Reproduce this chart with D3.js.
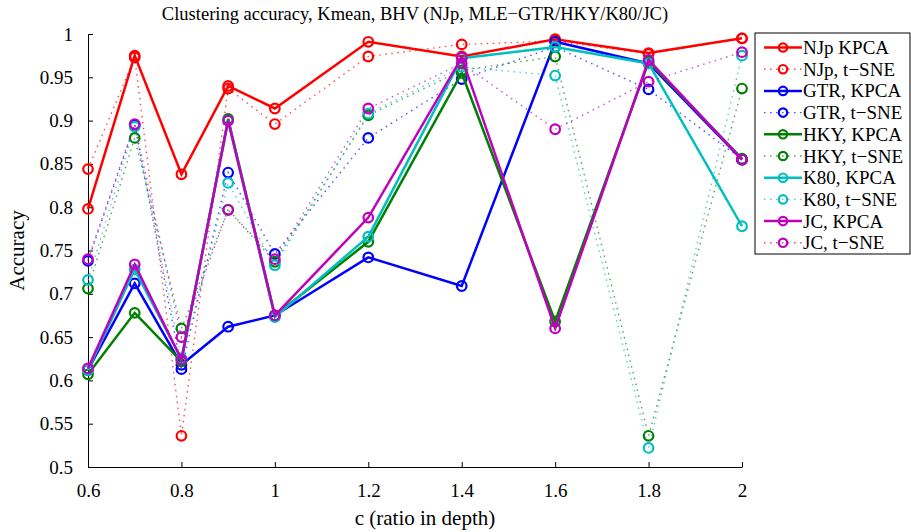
<!DOCTYPE html>
<html>
<head>
<meta charset="utf-8">
<script src="https://cdn.jsdelivr.net/npm/d3@7"></script>
<style>
  body { margin: 0; background: #fff; }
  svg { font-family: "Liberation Serif", "DejaVu Serif", serif; }
</style>
</head>
<body>
<div id="chart"></div>
<script>
let xValues = [0.6, 0.7, 0.8, 0.9, 1, 1.2, 1.4, 1.6, 1.8, 2]

let njpKpca = [0.798, 0.975, 0.838, 0.940, 0.914, 0.991, 0.974, 0.994, 0.978, 0.995]
let njpTsne = [0.844, 0.973, 0.536, 0.937, 0.896, 0.974, 0.988, 0.992, 0.977, 0.995]
let gtrKpca = [0.612, 0.712, 0.618, 0.662, 0.675, 0.742, 0.709, 0.991, 0.966, 0.855]
let gtrTsne = [0.738, 0.895, 0.613, 0.840, 0.746, 0.880, 0.948, 0.985, 0.936, 0.855]
let hkyKpca = [0.607, 0.678, 0.622, 0.902, 0.675, 0.760, 0.955, 0.668, 0.968, 0.856]
let hkyTsne = [0.706, 0.880, 0.660, 0.797, 0.737, 0.906, 0.958, 0.974, 0.536, 0.937]
let k80Kpca = [0.612, 0.728, 0.625, 0.900, 0.673, 0.766, 0.972, 0.985, 0.966, 0.778]
let k80Tsne = [0.716, 0.893, 0.625, 0.828, 0.733, 0.908, 0.962, 0.952, 0.522, 0.975]
let jcKpca = [0.614, 0.734, 0.624, 0.900, 0.675, 0.788, 0.973, 0.660, 0.970, 0.855]
let jcTsne = [0.740, 0.896, 0.650, 0.797, 0.740, 0.914, 0.966, 0.890, 0.945, 0.979]

let seriesNames = ['NJp KPCA', 'NJp, t\u2212SNE', 'GTR, KPCA', 'GTR, t\u2212SNE', 'HKY, KPCA', 'HKY, t\u2212SNE',
  'K80, KPCA', 'K80, t\u2212SNE', 'JC, KPCA', 'JC, t\u2212SNE']
let seriesValues = [njpKpca, njpTsne, gtrKpca, gtrTsne, hkyKpca, hkyTsne, k80Kpca, k80Tsne, jcKpca, jcTsne]
let seriesColors = ['#ff0000', '#ff0000', '#0000ff', '#0000ff', '#008000', '#008000', '#00bfbf', '#00bfbf', '#bf00bf', '#bf00bf']
let seriesDotted = [false, true, false, true, false, true, false, true, false, true]

let xTicks = [0.6, 0.8, 1, 1.2, 1.4, 1.6, 1.8, 2]
let yTicks = [0.5, 0.55, 0.6, 0.65, 0.7, 0.75, 0.8, 0.85, 0.9, 0.95, 1]

let width = 911,
  height = 532,
  margin = { top: 34, right: 169, bottom: 65, left: 88 } // plot area 88..742, 34..467

let x = d3.scaleLinear()
  .domain([0.6, 2])
  .range([margin.left, width - margin.right])

let y = d3.scaleLinear()
  .domain([0.5, 1])
  .range([height - margin.bottom, margin.top])

let svg = d3.select('#chart').append('svg')
  .attr('width', width)
  .attr('height', height)

// title, centred over the axes
svg.append('text')
  .attr('x', (x(0.6) + x(2)) / 2)
  .attr('y', 20)
  .attr('text-anchor', 'middle')
  .attr('font-size', '18.5px')
  .text('Clustering accuracy, Kmean, BHV (NJp, MLE\u2212GTR/HKY/K80/JC)')

// axes
let xAxis = d3.axisBottom(x)
  .tickValues(xTicks)
  .tickFormat(d3.format('~g'))
  .tickSizeInner(-5)
  .tickSizeOuter(0)
  .tickPadding(17)

let yAxis = d3.axisLeft(y)
  .tickValues(yTicks)
  .tickFormat(d3.format('~g'))
  .tickSizeInner(-5)
  .tickSizeOuter(0)
  .tickPadding(15)

svg.append('g')
  .attr('transform', 'translate(0,' + y(0.5) + ')')
  .call(xAxis)
  .call(g => g.selectAll('text').attr('font-size', '19px').attr('font-family', '"Liberation Serif", serif').attr('fill', '#000'))
  .call(g => g.selectAll('line, path').attr('stroke', '#000'))

svg.append('g')
  .attr('transform', 'translate(' + x(0.6) + ',0)')
  .call(yAxis)
  .call(g => g.selectAll('text').attr('font-size', '19px').attr('font-family', '"Liberation Serif", serif').attr('fill', '#000'))
  .call(g => g.selectAll('line, path').attr('stroke', '#000'))

// axis labels
svg.append('text')
  .attr('x', (x(0.6) + x(2)) / 2 + 10)
  .attr('y', 525)
  .attr('text-anchor', 'middle')
  .attr('font-size', '21px')
  .text('c (ratio in depth)')

svg.append('text')
  .attr('transform', 'translate(24,' + y(0.75) + ') rotate(-90)')
  .attr('text-anchor', 'middle')
  .attr('font-size', '21px')
  .text('Accuracy')

// series
let line = d3.line()
  .x((d, i) => x(xValues[i]))
  .y(d => y(d))

seriesValues.forEach((vals, s) => {
  let g = svg.append('g')
  g.append('path')
    .datum(vals)
    .attr('d', line)
    .attr('fill', 'none')
    .attr('stroke', seriesColors[s])
    .attr('stroke-width', seriesDotted[s] ? 1.4 : 2.5)
    .attr('stroke-dasharray', seriesDotted[s] ? '1.5,4.5' : null)
    .attr('opacity', seriesDotted[s] ? 0.7 : 1)

  g.selectAll('circle')
    .data(vals)
    .enter().append('circle')
    .attr('cx', (d, i) => x(xValues[i]))
    .attr('cy', d => y(d))
    .attr('r', 4.8)
    .attr('fill', 'none')
    .attr('stroke', seriesColors[s])
    .attr('stroke-width', 2.2)
})

// legend
let legend = svg.append('g')
  .attr('transform', 'translate(755,33)')

let rowHeight = 21.7

legend.append('rect')
  .attr('x', 0)
  .attr('y', 0)
  .attr('width', 155)
  .attr('height', 221)
  .attr('fill', '#fff')
  .attr('stroke', '#000')
  .attr('stroke-width', 1)

let rows = legend.selectAll('.legend-row')
  .data(seriesNames)
  .enter().append('g')
  .attr('transform', (d, i) => 'translate(0,' + (14.5 + i * rowHeight) + ')')

rows.append('line')
  .attr('x1', 9)
  .attr('x2', 47)
  .attr('y1', 0)
  .attr('y2', 0)
  .attr('stroke', (d, i) => seriesColors[i])
  .attr('stroke-width', (d, i) => seriesDotted[i] ? 1.4 : 2.5)
  .attr('stroke-dasharray', (d, i) => seriesDotted[i] ? '1.5,4.5' : null)
  .attr('opacity', (d, i) => seriesDotted[i] ? 0.7 : 1)

rows.append('circle')
  .attr('cx', 28)
  .attr('cy', 0)
  .attr('r', 4.2)
  .attr('fill', 'none')
  .attr('stroke', (d, i) => seriesColors[i])
  .attr('stroke-width', 2.2)

rows.append('text')
  .attr('x', 48)
  .attr('y', 6.5)
  .attr('font-size', '19px')
  .text(d => d)
</script>
</body>
</html>
